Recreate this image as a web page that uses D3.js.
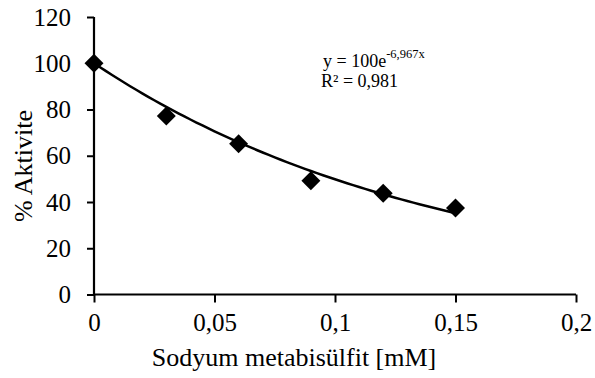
<!DOCTYPE html>
<html>
<head>
<meta charset="utf-8">
<script src="https://cdn.jsdelivr.net/npm/d3@7"></script>
<style>
  body { margin: 0; background: #fff; }
  text { font-family: "Liberation Serif", "Times New Roman", serif; fill: #000; }
</style>
</head>
<body>
<svg id="chart" width="595" height="378"></svg>
<script>
// measured points
const concentrations = [0, 0.03, 0.06, 0.09, 0.12, 0.15];
const activity = [100, 77.2, 65.2, 49.2, 43.8, 37.4];
const xTicks = [0, 0.05, 0.1, 0.15, 0.2];
const yTicks = [0, 20, 40, 60, 80, 100, 120];
// exponential trendline y = a * e^(b x)
const fitA = 100;
const fitB = -6.967;
const fitR2 = "0,981";

const svg = d3.select("#chart");

const x = d3.scaleLinear().domain([0, 0.2]).range([94, 576]);
const y = d3.scaleLinear().domain([0, 120]).range([294.5, 17]);

const fmt = d => String(d).replace(".", ",");

// y axis
const yAxis = svg.append("g")
  .attr("transform", "translate(" + x(0) + ",0)")
  .call(d3.axisLeft(y).tickValues(yTicks).tickSize(7).tickPadding(16).tickFormat(fmt));
yAxis.select(".domain").attr("d", "M0," + y(120) + "V" + y(0));

// x axis
const xAxis = svg.append("g")
  .attr("transform", "translate(0," + y(0) + ")")
  .call(d3.axisBottom(x).tickValues(xTicks).tickSize(8).tickPadding(11).tickFormat(fmt));
xAxis.select(".domain").attr("d", "M" + x(0) + ",0H" + x(0.2));

svg.selectAll(".domain").attr("stroke", "#000").attr("stroke-width", 2.2);
svg.selectAll(".tick line").attr("stroke", "#000").attr("stroke-width", 2);
svg.selectAll(".tick text").style("font-size", "25px").style("font-family", "Liberation Serif");

// trendline
const curve = d3.range(0, 0.15001, 0.0025).map(v => [v, fitA * Math.exp(fitB * v)]);
svg.append("path")
  .datum(curve)
  .attr("fill", "none")
  .attr("stroke", "#000")
  .attr("stroke-width", 2.5)
  .attr("d", d3.line().x(d => x(d[0])).y(d => y(d[1])));

// markers
const diamond = d3.symbol().type(d3.symbolSquare).size(180);
svg.selectAll("path.pt")
  .data(concentrations)
  .enter()
  .append("path")
  .attr("class", "pt")
  .attr("d", diamond)
  .attr("fill", "#000")
  .attr("transform", (d, i) => "translate(" + x(d) + "," + y(activity[i]) + ") rotate(45)");

// axis titles
svg.append("text")
  .attr("x", 294)
  .attr("y", 366)
  .attr("text-anchor", "middle")
  .style("font-size", "26px")
  .text("Sodyum metabisülfit [mM]");

svg.append("text")
  .attr("transform", "translate(32,166) rotate(-90)")
  .attr("text-anchor", "middle")
  .style("font-size", "26px")
  .text("% Aktivite");

// equation
const eq = svg.append("text")
  .attr("x", 323)
  .attr("y", 67)
  .style("font-size", "18px");
eq.append("tspan").text("y = " + fitA + "e");
eq.append("tspan").attr("dy", -9).style("font-size", "12.5px").text(fmt(fitB) + "x");

svg.append("text")
  .attr("x", 321)
  .attr("y", 87)
  .style("font-size", "18px")
  .text("R² = " + fitR2);
</script>
</body>
</html>
